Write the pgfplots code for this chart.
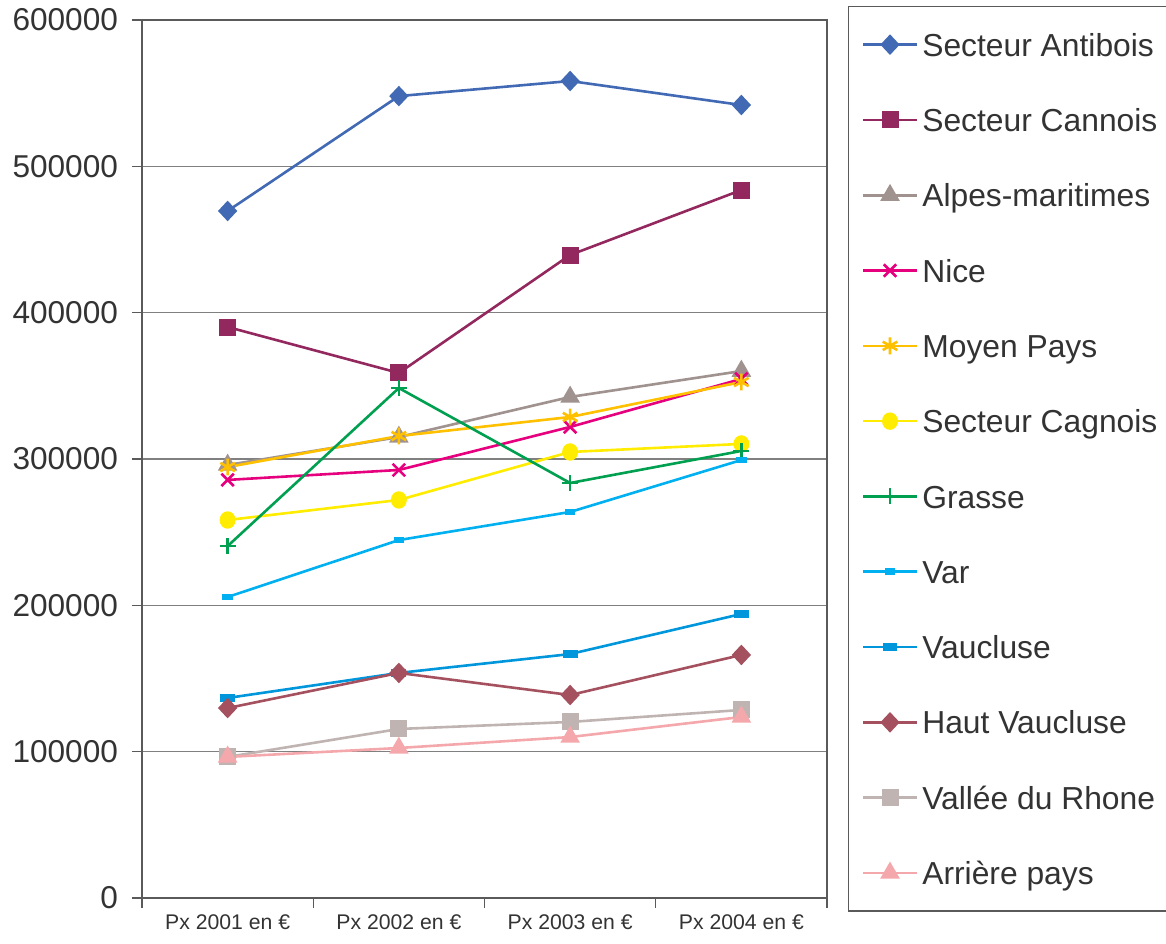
\documentclass[border=0pt]{standalone}
\usepackage{fontspec}
\setmainfont{Liberation Sans}
\usepackage{pgfplots}
\usepackage{pgfplotstable}
\pgfplotsset{compat=1.18}

\definecolor{cAnt}{RGB}{65,105,180}
\definecolor{cCan}{RGB}{146,40,94}
\definecolor{cAlp}{RGB}{160,146,143}
\definecolor{cNic}{RGB}{230,0,126}
\definecolor{cMoy}{RGB}{255,192,0}
\definecolor{cCag}{RGB}{255,236,0}
\definecolor{cGra}{RGB}{0,160,80}
\definecolor{cVar}{RGB}{0,176,240}
\definecolor{cVau}{RGB}{0,150,220}
\definecolor{cHau}{RGB}{164,80,94}
\definecolor{cVal}{RGB}{192,180,178}
\definecolor{cArr}{RGB}{245,168,172}
\definecolor{txt}{RGB}{51,51,51}
\definecolor{gridc}{RGB}{128,128,128}
\definecolor{framec}{RGB}{90,90,90}

\pgfplotstableread{
x Antibois Cannois Alpes Nice Moyen Cagnois Grasse Var Vaucluse HautV Vallee Arriere
0 469500 390200 295900 285700 294500 258300 240500 205700 136700 129800 96400 96400
1 548000 358800 315000 292500 315700 272000 348500 244600 153800 153800 115500 102500
2 558300 439400 342400 321900 328700 304800 283600 263800 166700 138700 120300 110000
3 541900 483800 360100 354700 352600 310300 305500 299300 194100 166100 128500 123700
}\data

\begin{document}
\begin{tikzpicture}
\useasboundingbox (-71bp,-23bp) rectangle (512bp,449bp);
\begin{axis}[
  scale only axis, width=342.5bp, height=439bp,
  xmin=-0.5, xmax=3.5, ymin=0, ymax=600000,
  xtick={0,1,2,3},
  xticklabels={Px 2001 en €, Px 2002 en €, Px 2003 en €, Px 2004 en €},
  minor xtick={-0.5,0.5,1.5,2.5,3.5},
  major x tick style={draw=none},
  ytick={0,100000,...,600000},
  scaled y ticks=false,
  /pgf/number format/.cd, fixed, set thousands separator={}, assume math mode=true,
  /pgfplots/.cd,
  xtick pos=bottom, ytick pos=left,
  tick align=outside,
  major tick length=5bp, minor tick length=5bp,
  tick style={draw=framec, line width=0.6bp},
  y tick label style={font=\fontsize{15.8bp}{18bp}\selectfont, text=txt, xshift=-3.5bp},
  x tick label style={font=\fontsize{10.6bp}{12bp}\selectfont, text=txt},
  ymajorgrids, major grid style={draw=gridc, line width=0.7bp},
  axis line style={draw=framec, line width=0.7bp},
  every axis plot/.append style={line width=1.3bp, mark options={solid}},
  legend image code/.code={\draw[mark repeat=2,mark phase=2,line width=1.3bp,#1] plot coordinates {(0bp,0bp) (13.5bp,0bp) (27bp,0bp)};},
  legend cell align=left,
  legend style={at={(axis description cs:1.0307,1.016)}, anchor=north west,
    draw=framec, line width=0.7bp, fill=white,
    font=\fontsize{15.9bp}{18bp}\selectfont, text=txt,
    inner xsep=6.5bp, inner ysep=11bp, row sep=21.65bp,
    nodes={inner xsep=0bp, inner ysep=0bp, text height=13.8bp, text depth=2.2bp},
    /tikz/every odd column/.append style={column sep=2bp}},
]
\addplot[color=cAnt, mark=diamond*, mark size=4.2bp, mark options={xscale=1.25}] table[x=x,y=Antibois]{\data};
\addlegendentry{Secteur Antibois}
\addplot[color=cCan, mark=square*, mark size=3.6bp] table[x=x,y=Cannois]{\data};
\addlegendentry{Secteur Cannois}
\addplot[color=cAlp, mark=triangle*, mark size=4.4bp] table[x=x,y=Alpes]{\data};
\addlegendentry{Alpes-maritimes}
\addplot[color=cNic, mark=x, mark size=4.4bp] table[x=x,y=Nice]{\data};
\addlegendentry{Nice}
\addplot[color=cMoy, mark=asterisk, mark size=4.2bp] table[x=x,y=Moyen]{\data};
\addlegendentry{Moyen Pays}
\addplot[color=cCag, mark=*, mark size=3.7bp, mark options={xscale=0.9}] table[x=x,y=Cagnois]{\data};
\addlegendentry{Secteur Cagnois}
\addplot[color=cGra, mark=+, mark size=4bp] table[x=x,y=Grasse]{\data};
\addlegendentry{Grasse}
\addplot[color=cVar, mark=square*, mark size=1.6bp, mark options={xscale=1.2, yscale=0.65}] table[x=x,y=Var]{\data};
\addlegendentry{Var}
\addplot[color=cVau, mark=square*, mark size=2.2bp, mark options={xscale=1.4, yscale=0.6}] table[x=x,y=Vaucluse]{\data};
\addlegendentry{Vaucluse}
\addplot[color=cHau, mark=diamond*, mark size=4.2bp, mark options={xscale=1.25}] table[x=x,y=HautV]{\data};
\addlegendentry{Haut Vaucluse}
\addplot[color=cVal, mark=square*, mark size=3.6bp] table[x=x,y=Vallee]{\data};
\addlegendentry{Vallée du Rhone}
\addplot[color=cArr, mark=triangle*, mark size=4.4bp] table[x=x,y=Arriere]{\data};
\addlegendentry{Arrière pays}
\end{axis}
\end{tikzpicture}
\end{document}
